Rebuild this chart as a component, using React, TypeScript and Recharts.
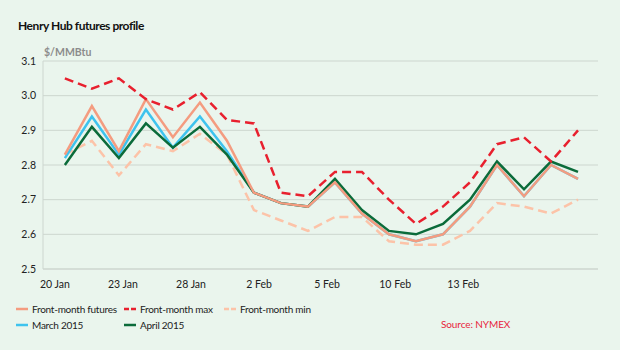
import { LineChart, Line, XAxis, YAxis, CartesianGrid } from "recharts";

// trading days 20 Jan - 17 Feb 2015, one point each
const tickLabels = ["20 Jan", "23 Jan", "28 Jan", "2 Feb", "5 Feb", "10 Feb", "13 Feb"];
const frontMonth = [2.83, 2.97, 2.84, 2.99, 2.88, 2.98, 2.87, 2.72, 2.69, 2.68, 2.75, 2.66, 2.6, 2.58, 2.6, 2.68, 2.8, 2.71, 2.8, 2.76];
const frontMax = [3.05, 3.02, 3.05, 2.99, 2.96, 3.01, 2.93, 2.92, 2.72, 2.71, 2.78, 2.78, 2.7, 2.63, 2.68, 2.75, 2.86, 2.88, 2.81, 2.9];
const frontMin = [2.83, 2.87, 2.77, 2.86, 2.84, 2.89, 2.83, 2.67, 2.64, 2.61, 2.65, 2.65, 2.58, 2.57, 2.57, 2.61, 2.69, 2.68, 2.66, 2.7];
const march = [2.82, 2.94, 2.83, 2.96, 2.85, 2.94, 2.84, 2.72, 2.69, 2.68, 2.75, 2.66, 2.6, 2.58, 2.6, 2.68, 2.8, 2.71, 2.8, 2.76];
const april = [2.8, 2.91, 2.82, 2.92, 2.85, 2.91, 2.83, 2.72, 2.69, 2.68, 2.76, 2.67, 2.61, 2.6, 2.63, 2.7, 2.81, 2.73, 2.81, 2.78];
const yTicks = [2.5, 2.6, 2.7, 2.8, 2.9, 3.0, 3.1];

const data = frontMonth.map((v, i) => ({
  idx: i,
  front: v,
  max: frontMax[i],
  min: frontMin[i],
  march: march[i],
  april: april[i],
}));

// labels in the original sit between points, roughly every 2.5 days
const tickPos = tickLabels.map((_, i) => -0.37 + i * 2.52);
const tickText = new Map(tickPos.map((p, i) => [p, tickLabels[i]]));

const series = [
  { key: "front", name: "Front-month futures", color: "#f49c80", dash: "" },
  { key: "max", name: "Front-month max", color: "#e8202e", dash: "9 5" },
  { key: "min", name: "Front-month min", color: "#fcc3a8", dash: "9 5" },
  { key: "march", name: "March 2015", color: "#3ec3ee", dash: "" },
  { key: "april", name: "April 2015", color: "#0b6b3a", dash: "" },
];

// draw order: blue & green under the front-month line, dashed ones on top
const drawOrder = ["min", "march", "april", "front", "max"];

const FONT = "Lato, sans-serif";

export default function App() {
  return (
    <div
      style={{
        position: "absolute",
        left: 0,
        top: 0,
        width: 620,
        height: 350,
        background: "#eaf5ed",
        fontFamily: FONT,
        overflow: "hidden",
      }}
    >
      <div style={{ position: "absolute", left: 18, top: 18, fontSize: 12, fontWeight: "bold", color: "#111", letterSpacing: -0.45 }}>
        Henry Hub futures profile
      </div>
      <div style={{ position: "absolute", left: 44, top: 46, fontSize: 10.5, fontWeight: "bold", color: "#8c8c8c" }}>
        $/MMBtu
      </div>

      <div style={{ position: "absolute", left: 0, top: 0 }}>
        <LineChart width={620} height={299} data={data} margin={{ top: 61, right: 22, left: 0, bottom: 0 }}>
          <CartesianGrid horizontal vertical={false} stroke="#cdd6cf" />
          <XAxis
            dataKey="idx"
            type="number"
            domain={[-0.81, 19.74]}
            ticks={tickPos}
            tickFormatter={(v: number) => tickText.get(v) ?? ""}
            interval={0}
            axisLine={{ stroke: "#cdd6cf" }}
            tickLine={false}
            tickMargin={6}
            height={30}
            tick={{ fontSize: 10.5, fill: "#222", fontFamily: FONT }}
          />
          <YAxis
            domain={[2.5, 3.1]}
            ticks={yTicks}
            tickFormatter={(v: number) => v.toFixed(1)}
            width={43}
            axisLine={{ stroke: "#cdd6cf" }}
            tickLine={false}
            tickMargin={1}
            tick={{ fontSize: 10.5, fill: "#222", fontFamily: FONT }}
          />
          {drawOrder.map((k) => {
            const s = series.find((x) => x.key === k)!;
            return (
              <Line
                key={k}
                dataKey={k}
                name={s.name}
                stroke={s.color}
                strokeWidth={2.5}
                strokeDasharray={s.dash || undefined}
                dot={false}
                activeDot={false}
                type="linear"
                isAnimationActive={false}
              />
            );
          })}
        </LineChart>
      </div>

      <div
        style={{
          position: "absolute",
          left: 16,
          top: 302,
          display: "grid",
          gridTemplateColumns: "108px 100px 120px",
          rowGap: 2,
          fontSize: 10,
          letterSpacing: -0.25,
          color: "#222",
          whiteSpace: "nowrap",
        }}
      >
        {series.map((s) => (
          <div key={s.key} style={{ display: "flex", alignItems: "center", height: 14 }}>
            <svg width={14} height={4} style={{ marginRight: 2 }}>
              <line x1={0} y1={2} x2={12} y2={2} stroke={s.color} strokeWidth={2.5} strokeDasharray={s.dash ? "5 2" : undefined} />
            </svg>
            <span>{s.name}</span>
          </div>
        ))}
      </div>

      <div style={{ position: "absolute", left: 441, top: 318, fontSize: 10, letterSpacing: -0.1, color: "#e8243c" }}>Source: NYMEX</div>
    </div>
  );
}
